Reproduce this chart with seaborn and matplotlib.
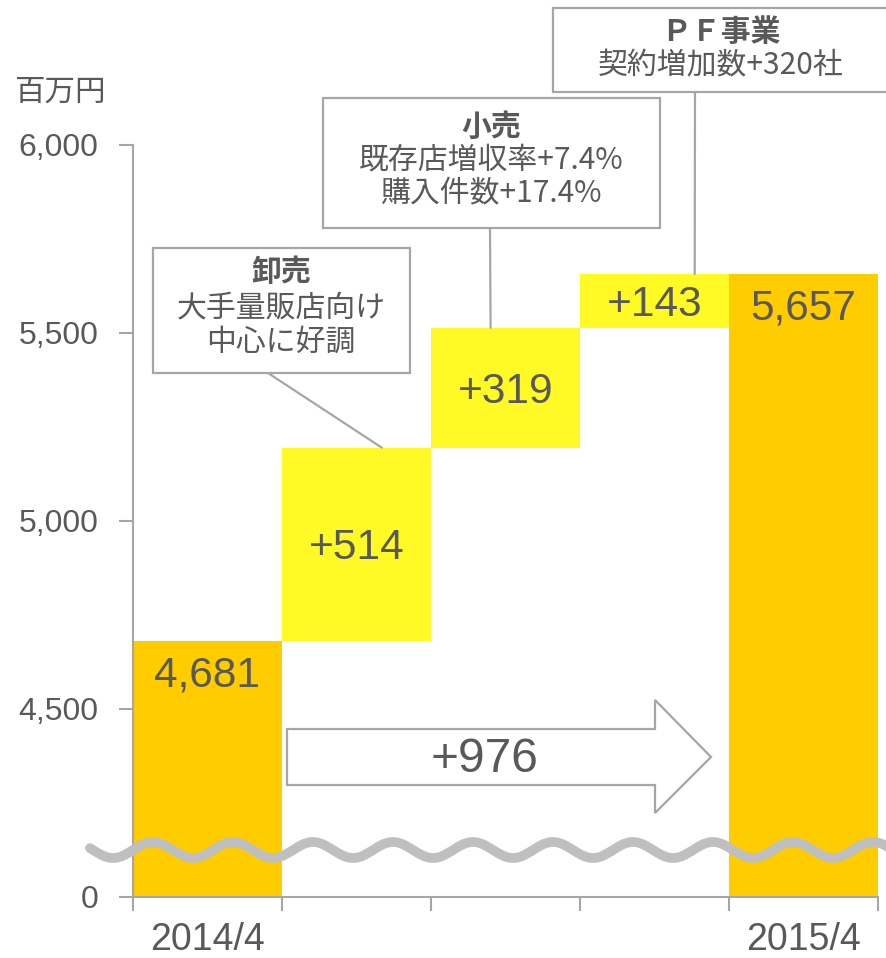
import numpy as np
import matplotlib
matplotlib.use("Agg")
import matplotlib.pyplot as plt
from matplotlib.patches import Rectangle, Polygon, ConnectionPatch
import seaborn as sns

# data (百万円)
categories = ["2014/4", "卸売", "小売", "PF事業", "2015/4"]
start_value = 4681
deltas = [514, 319, 143]
end_value = 5657
total_change = 976
ytick_values = [4000, 4500, 5000, 5500, 6000]
ytick_labels = ["0", "4,500", "5,000", "5,500", "6,000"]
xtick_labels = ["2014/4", "", "", "", "2015/4"]

callouts = [
    ["卸売", "大手量販店向け", "中心に好調"],
    ["小売", "既存店増収率+7.4%", "購入件数+17.4%"],
    ["ＰＦ事業", "契約増加数+320社"],
]

# waterfall geometry from the data
tops = np.cumsum([start_value] + deltas)
bottoms = [0] + list(tops[:-1]) + [0]
heights = [start_value] + deltas + [end_value]
top_values = [start_value] + list(tops[1:]) + [end_value]

ORANGE = "#FFCC00"
YELLOW = "#FFF926"
TEXT = "#595959"
GRAY = "#A6A6A6"

sns.set_style("white")
plt.rcParams["font.family"] = ["Liberation Sans", "Noto Sans CJK JP", "DejaVu Sans"]

W, H = 887, 958
fig = plt.figure(figsize=(W / 100, H / 100), dpi=100)
ax = fig.add_axes([133 / W, 1 - 897 / H, (878 - 133) / W, (897 - 145) / H])

sns.barplot(x=categories, y=heights, bottom=bottoms, width=1.0, ax=ax,
            color=ORANGE, linewidth=0, order=categories)
colors = [ORANGE, YELLOW, YELLOW, YELLOW, ORANGE]
for p, c in zip(ax.patches, colors):
    p.set_facecolor(c)
    p.set_edgecolor("none")

ax.set_xlim(-0.5, 4.5)
ax.set_ylim(4000, 6000)
ax.set_yticks(ytick_values)
ax.set_yticklabels(ytick_labels)
ax.set_xticks(np.arange(-0.5, 5, 1.0))
ax.set_xticklabels([])
ax.set_xticks(range(len(categories)), minor=True)
ax.set_xticklabels(xtick_labels, minor=True)
ax.tick_params(axis="y", which="both", left=True, length=10, width=1.5, color=GRAY,
               labelsize=23, labelcolor=TEXT, pad=15)
ax.tick_params(axis="x", which="major", bottom=True, length=10, width=1.5, color=GRAY)
ax.tick_params(axis="x", which="minor", bottom=True, length=0, labelsize=27,
               labelcolor=TEXT, pad=18)
sns.despine(ax=ax, top=True, right=True)
for s in ["left", "bottom"]:
    ax.spines[s].set_color(GRAY)
    ax.spines[s].set_linewidth(1.5)
ax.set_xlabel("")
ax.set_ylabel("")

# value labels
for i, (b, h, t) in enumerate(zip(bottoms, heights, top_values)):
    if i in (0, len(categories) - 1):
        ax.annotate(f"{t:,}", xy=(i, t), xytext=(0, -25), textcoords="offset points",
                    ha="center", va="center", fontsize=30.5, color=TEXT)
    else:
        ax.annotate(f"+{h:,}", xy=(i, b + h / 2), xytext=(0, -3), textcoords="offset points",
                    ha="center", va="center", fontsize=30.5, color=TEXT)

# overlay in pixel coordinates for decorations
ov = fig.add_axes([0, 0, 1, 1], zorder=5)
ov.set_xlim(0, W)
ov.set_ylim(H, 0)
ov.axis("off")

fig.text(14 / W, 1 - 92 / H, "百万円", fontsize=22, color=TEXT, va="center", ha="left",
         family=["Noto Sans CJK JP"])

# broken-axis wave
wx = np.linspace(90, 890, 400)
wy = 850 - 8 * np.cos(2 * np.pi * (wx - 153) / 80)
ov.plot(wx, wy, color="#BFBFBF", lw=7, solid_capstyle="round", clip_on=False)

# total change arrow
arrow = Polygon([(287, 729), (655, 729), (655, 700), (711, 757), (655, 813), (655, 785), (287, 785)],
                closed=True, facecolor="white", edgecolor=GRAY, lw=1.6)
ov.add_patch(arrow)
ov.text(485, 760, f"+{total_change:,}", ha="center", va="center", fontsize=34.5, color=TEXT)

# callout boxes
boxes = [
    dict(rect=(153, 248, 257, 125), cx=281, ys=[272, 308, 342], start=(268, 373), end=(1.17, tops[1])),
    dict(rect=(323, 98, 337, 130), cx=491, ys=[127, 160, 193], start=(490, 228), end=(3 - 1.1, tops[2])),
    dict(rect=(553, 8, 340, 84), cx=721, ys=[32, 66], start=(695, 92), end=(3.27, tops[3])),
]
for box, lines in zip(boxes, callouts):
    x0, y0, w, h = box["rect"]
    ov.add_patch(Rectangle((x0, y0), w, h, facecolor="white", edgecolor=GRAY, lw=1.6))
    for j, (line, y) in enumerate(zip(lines, box["ys"])):
        ov.text(box["cx"], y, line, ha="center", va="center", fontsize=21.5, color=TEXT,
                fontweight="bold" if j == 0 else "normal", family=["Noto Sans CJK JP"])
    con = ConnectionPatch(xyA=box["start"], coordsA=ov.transData,
                          xyB=box["end"], coordsB=ax.transData,
                          color=GRAY, lw=1.6, zorder=4)
    fig.add_artist(con)

fig.savefig("out.png", dpi=100)
